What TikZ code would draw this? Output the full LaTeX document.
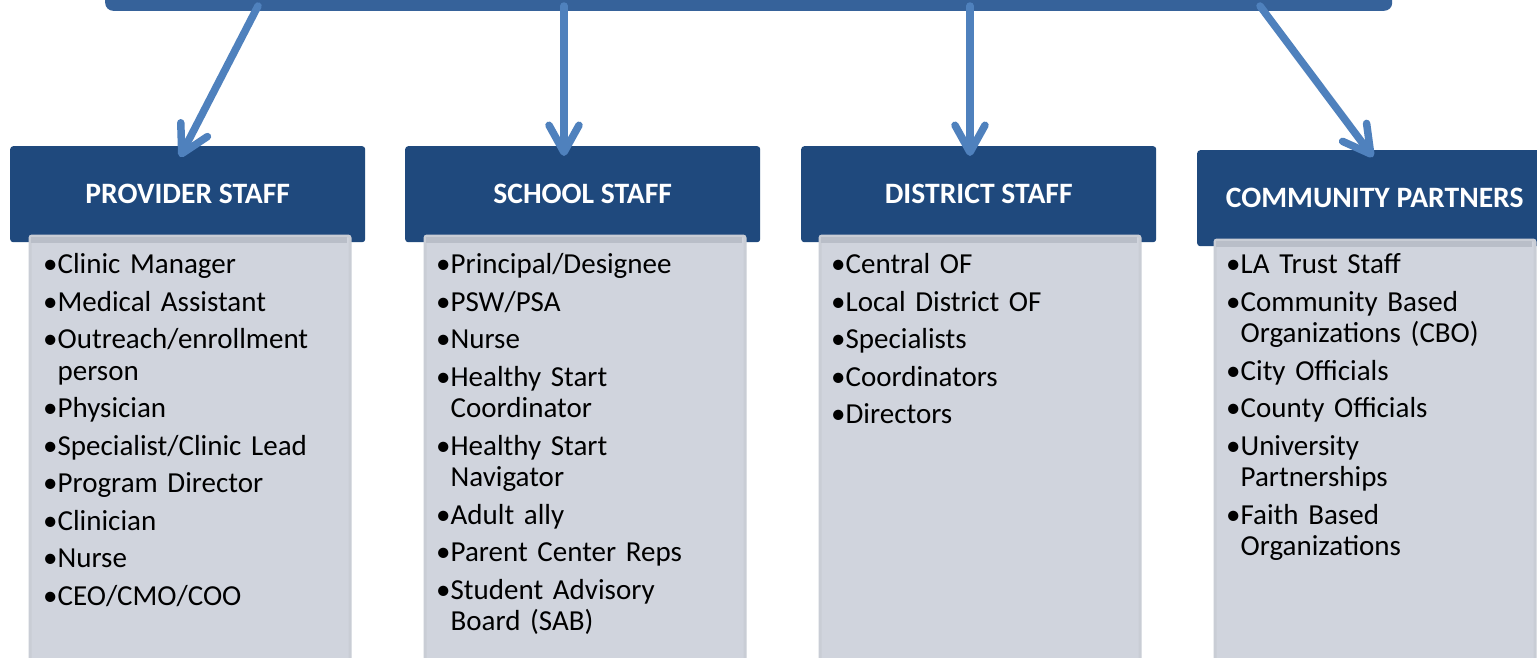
\documentclass[tikz,border=0pt]{standalone}
\usepackage{fontspec}
\setmainfont{Carlito}
\usetikzlibrary{arrows.meta}
\definecolor{barblue}{HTML}{36629A}
\definecolor{headblue}{HTML}{1F497D}
\definecolor{arrowblue}{HTML}{4F81BD}
\definecolor{listgray}{HTML}{D0D4DD}
\definecolor{listedge}{HTML}{C9CDD5}
\definecolor{liststrip}{HTML}{B9BEC8}
\newlength\bulw
\newcommand\itm[1]{\par\settowidth\bulw{•}\hangindent=\bulw\hangafter=1\noindent\strut•#1}
\begin{document}
\begin{tikzpicture}[x=1pt,y=-1pt,
  headbox/.style={fill=headblue, draw=none, rounded corners=3pt, minimum width=355pt, minimum height=96pt, anchor=north west, inner sep=0pt, text=white, font=\fontsize{29.6}{34}\selectfont\bfseries},
  listbox/.style={fill=listgray, draw=listedge, line width=3pt, rounded corners=2pt, minimum width=320pt, minimum height=460pt, anchor=north west, inner sep=0pt},
  stripbox/.style={fill=liststrip, draw=none, minimum width=316pt, minimum height=6pt, anchor=north west, inner sep=0pt},
  listtext/.style={anchor=north west, inner sep=0pt, text width=310pt, font=\fontsize{29}{31.5}\selectfont},
  conn/.style={draw=arrowblue, line width=7.5pt, line cap=round, -{Straight Barb[length=27pt,width=30pt,round]}}]
\useasboundingbox (0,0) rectangle (1537,657);
\clip (0,0) rectangle (1537,657);
\fill[white] (0,0) rectangle (1537,657);
% top bar
\node[fill=barblue, rounded corners=8pt, minimum width=1287pt, minimum height=40pt, anchor=south west, inner sep=0pt] (top) at (105,11) {};
% headers
\node[headbox] (h1) at (10,146) {PROVIDER STAFF};
\node[headbox] (h2) at (405,146) {SCHOOL STAFF};
\node[headbox] (h3) at (801,146) {DISTRICT STAFF};
\node[headbox] (h4) at (1197,150) {COMMUNITY PARTNERS};
% list boxes
\node[listbox] (l1) at (28.5,234.5) {};
\node[listbox] (l2) at (423.5,234.5) {};
\node[listbox] (l3) at (818.5,234.5) {};
\node[listbox] (l4) at (1213.5,238.5) {};
\node[stripbox] (s1) at (30.5,236.5) {};
\node[stripbox] (s2) at (425.5,236.5) {};
\node[stripbox] (s3) at (820.5,236.5) {};
\node[stripbox] (s4) at (1215.5,240.5) {};
% list texts
\node[listtext] (t1) at (43,236.2) {\raggedright\setlength\parskip{6pt}%
\itm{Clinic Manager}\itm{Medical Assistant}\itm{Outreach/enrollment\newline person}\itm{Physician}\itm{Specialist/Clinic Lead}\itm{Program Director}\itm{Clinician}\itm{Nurse}\itm{CEO/CMO/COO}\par};
\node[listtext] (t2) at (436,236.2) {\raggedright\setlength\parskip{6pt}%
\itm{Principal/Designee}\itm{PSW/PSA}\itm{Nurse}\itm{Healthy Start\newline Coordinator}\itm{Healthy Start\newline Navigator}\itm{Adult ally}\itm{Parent Center Reps}\itm{Student Advisory\newline Board (SAB)}\par};
\node[listtext] (t3) at (831,236.2) {\raggedright\setlength\parskip{6pt}%
\itm{Central OF}\itm{Local District OF}\itm{Specialists}\itm{Coordinators}\itm{Directors}\par};
\node[listtext] (t4) at (1226,236.2) {\raggedright\setlength\parskip{6pt}%
\itm{LA Trust Staff}\itm{Community Based\newline Organizations (CBO)}\itm{City Officials}\itm{County Officials}\itm{University\newline Partnerships}\itm{Faith Based\newline Organizations}\par};
% arrows
\coordinate (a1) at (258,6);
\coordinate (a2) at (564,6);
\coordinate (a3) at (970,6);
\coordinate (a4) at (1260,6);
\coordinate (b1) at (180,157);
\coordinate (b2) at (564,156);
\coordinate (b3) at (970,156);
\coordinate (b4) at (1373,157);
\draw[conn] (a1) -- (b1);
\draw[conn] (a2) -- (b2);
\draw[conn] (a3) -- (b3);
\draw[conn] (a4) -- (b4);
\end{tikzpicture}
\end{document}
